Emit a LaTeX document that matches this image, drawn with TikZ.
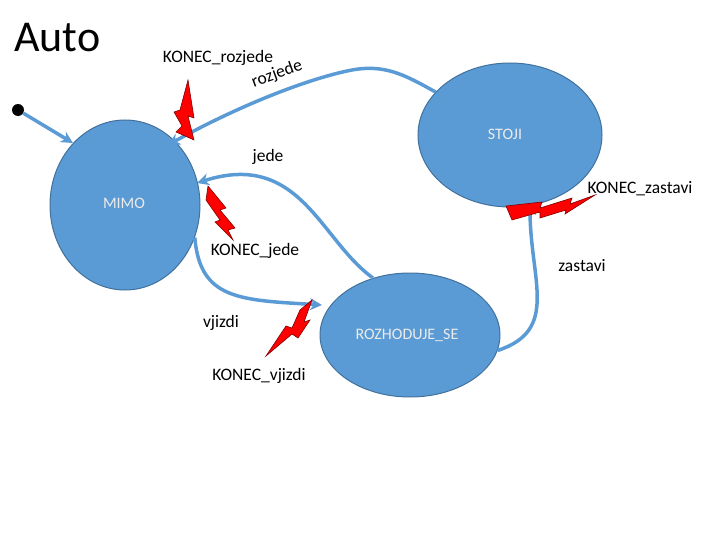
\documentclass[tikz,border=0pt]{standalone}
\usepackage{fontspec}
\setmainfont{Carlito}
\usetikzlibrary{arrows.meta,shapes.geometric}
\definecolor{fillb}{HTML}{5B9BD5}
\definecolor{edgeb}{HTML}{41719C}
\tikzset{
  st/.style={ellipse,draw=edgeb,fill=fillb,line width=1pt,inner sep=0pt},
  tr/.style={draw=fillb,line width=3.5pt,-{Stealth[length=12pt,width=12pt]},shorten >=0pt},
  lbl/.style={font=\fontsize{17.5}{17.5}\selectfont,inner sep=0pt},
  slbl/.style={font=\fontsize{16}{16}\selectfont,inner sep=0pt,text=white!92!black},
  bolt/.style={fill=red,draw=red!50!black,line width=0.6pt}
}
\begin{document}
\begin{tikzpicture}[x=1pt,y=-1pt]
\useasboundingbox (0,0) rectangle (720,540);
\node[st,minimum width=150pt,minimum height=170pt] (mimo) at (125,205) {};
\node[st,minimum width=184pt,minimum height=144pt] (stoji) at (510,135) {};
\node[st,minimum width=180pt,minimum height=124pt] (roz) at (410,335) {};
\node[circle,fill=black,minimum size=12pt,inner sep=0pt] (start) at (18,110) {};
\node[font=\fontsize{44}{44}\selectfont,anchor=west,inner sep=0pt] (auto) at (14,38) {Auto};
% transitions
\coordinate (m1) at (352,70);
\draw[tr] (stoji.150) .. controls (405,75) and (385,64) .. (m1) .. controls (310,78) and (240,105) .. (168,145);
\draw[tr] (start) -- (mimo.130);
\draw[tr] (roz.123) .. controls (320,240) and (300,150) .. (197,183);
\draw[tr] (mimo.-25) .. controls (200,300) and (240,300) .. (322,305);
\draw[tr] (roz.-10) .. controls (560,330) and (530,280) .. (530,203);
% bolts
\draw[bolt] (188,80) -- (194,118) -- (188,116) -- (194,140) -- (176,132) -- (182,126) -- (174,112) -- (180,110) -- cycle;
\draw[bolt] (208,186) -- (226,208) -- (220,210) -- (235,228) -- (228,230) -- (233,240) -- (215,222) -- (220,220) -- (206,200) -- cycle;
\draw[bolt] (312,300) -- (304,322) -- (310,320) -- (298,338) -- (292,334) -- (266,356) -- (286,326) -- (292,328) -- (300,310) -- cycle;
\draw[bolt] (595,195) -- (570,204) -- (572,198) -- (540,208) -- (542,202) -- (506,206) -- (512,220) -- (540,212) -- (540,218) -- (566,210) -- (565,214) -- cycle;
% labels
\node[lbl] (l1) at (218,58) {KONEC\_rozjede};
\node[lbl,rotate=20] (l2) at (277,74) {rozjede};
\node[lbl] (l3) at (268,157) {jede};
\node[slbl] (l4) at (124,203) {MIMO};
\node[slbl] (l5) at (505,134) {STOJI};
\node[lbl] (l6) at (640,189) {KONEC\_zastavi};
\node[lbl] (l7) at (255,251) {KONEC\_jede};
\node[lbl] (l8) at (582,266) {zastavi};
\node[lbl] (l9) at (221,323) {vjizdi};
\node[slbl] (l10) at (407,335) {ROZHODUJE\_SE};
\node[lbl] (l11) at (259,376) {KONEC\_vjizdi};
\end{tikzpicture}
\end{document}
